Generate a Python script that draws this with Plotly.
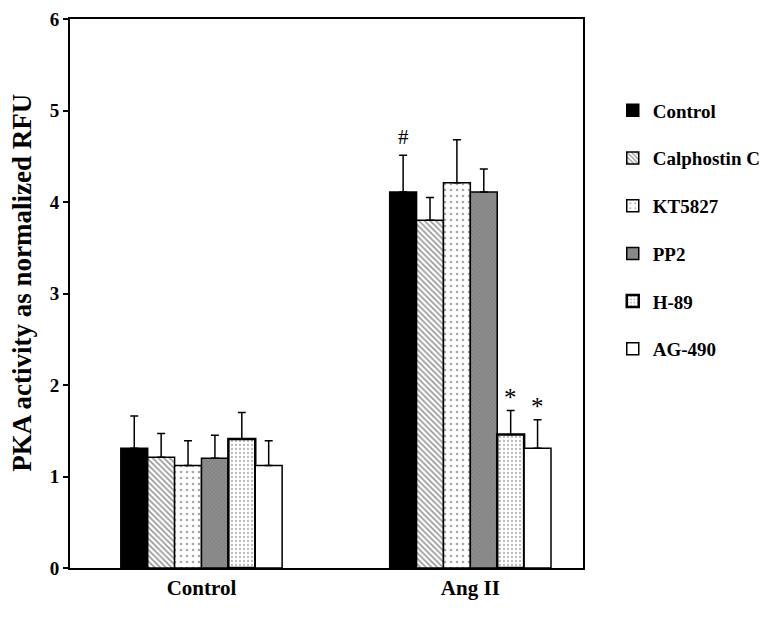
import plotly.graph_objects as go

groups = ["Control", "Ang II"]
treatments = ["Control", "Calphostin C", "KT5827", "PP2", "H-89", "AG-490"]
values = {
    "Control":      [1.31, 4.11],
    "Calphostin C": [1.21, 3.80],
    "KT5827":       [1.12, 4.21],
    "PP2":          [1.20, 4.11],
    "H-89":         [1.41, 1.46],
    "AG-490":       [1.12, 1.31],
}
errors = {
    "Control":      [0.35, 0.40],
    "Calphostin C": [0.26, 0.25],
    "KT5827":       [0.27, 0.47],
    "PP2":          [0.25, 0.25],
    "H-89":         [0.29, 0.26],
    "AG-490":       [0.27, 0.31],
}
# significance marks: (treatment, group index, symbol)
marks = [("Control", 1, "#"), ("H-89", 1, "*"), ("AG-490", 1, "*")]
y_title = "PKA activity as normalized RFU"

styles = {
    "Control":      dict(color="black", pattern=None, lw=1.5),
    "Calphostin C": dict(color="white", pattern=dict(shape="\\", fgcolor="#303030", bgcolor="white", size=4, solidity=0.4), lw=1.5),
    "KT5827":       dict(color="white", pattern=dict(shape=".", fgcolor="#505050", bgcolor="white", size=6, solidity=0.15), lw=1.5),
    "PP2":          dict(color="#858585", pattern=dict(shape="x", fgcolor="#6e6e6e", bgcolor="#8c8c8c", size=3, solidity=0.3), lw=1.5),
    "H-89":         dict(color="white", pattern=dict(shape=".", fgcolor="#707070", bgcolor="white", size=4, solidity=0.25), lw=2.5),
    "AG-490":       dict(color="white", pattern=None, lw=1.5),
}

FONT = "Liberation Serif"
xs = list(range(len(groups)))
fig = go.Figure()
for i, t in enumerate(treatments):
    st = styles[t]
    marker = dict(color=st["color"], line=dict(color="black", width=st["lw"]))
    if st["pattern"] is not None:
        marker["pattern"] = st["pattern"]
    fig.add_trace(go.Bar(
        x=xs, y=values[t], name=t, legendgroup=t,
        marker=marker,
        error_y=dict(type="data", array=errors[t], arrayminus=[0] * len(groups),
                     symmetric=False, color="black", thickness=1.5, width=4),
    ))

bar_w = 0.1
n = len(treatments)
for t, gi, sym in marks:
    idx = treatments.index(t)
    xpos = xs[gi] + (idx - (n - 1) / 2) * bar_w
    fig.add_annotation(x=xpos, y=values[t][gi] + errors[t][gi], text=sym,
                       showarrow=False, yanchor="bottom", yshift=4 if sym == "#" else -2,
                       font=dict(family=FONT, size=21 if sym == "#" else 25, color="black"))

# y-axis title as rotated text
fig.add_annotation(xref="paper", yref="paper", x=-0.095, y=0.52, text="<b>%s</b>" % y_title,
                   textangle=-90, showarrow=False, xanchor="center", yanchor="middle",
                   font=dict(family=FONT, size=27, color="black"))

fig.update_layout(
    width=769, height=619,
    margin=dict(l=62, r=192, t=11, b=59),
    paper_bgcolor="white", plot_bgcolor="white",
    barmode="group", bargap=0.4, bargroupgap=0,
    font=dict(family=FONT, color="black"),
    showlegend=True,
    legend=dict(x=1.058, y=0.868, xanchor="left", yanchor="top",
                font=dict(family=FONT, size=19, color="black", weight="bold"),
                tracegroupgap=20, itemwidth=30, bgcolor="rgba(0,0,0,0)"),
)
fig.update_xaxes(
    range=[-0.489, 1.419], tickvals=xs, ticktext=["<b>%s</b>" % g for g in groups],
    showline=True, linecolor="black", linewidth=2, mirror=True, ticks="",
    showgrid=False, zeroline=False, automargin=False, ticklabeloverflow="allow",
    tickfont=dict(family=FONT, size=21, color="black"),
)
fig.update_yaxes(
    range=[0, 6], dtick=1, tickvals=[0, 1, 2, 3, 4, 5, 6],
    ticktext=["<b>%d</b>" % v for v in range(7)],
    showline=True, linecolor="black", linewidth=2, mirror=True,
    ticks="outside", ticklen=5, tickwidth=1.5, tickcolor="black",
    showgrid=False, zeroline=False, automargin=False, ticklabeloverflow="allow",
    tickfont=dict(family=FONT, size=19, color="black"),
)
fig.write_html("out.html")
